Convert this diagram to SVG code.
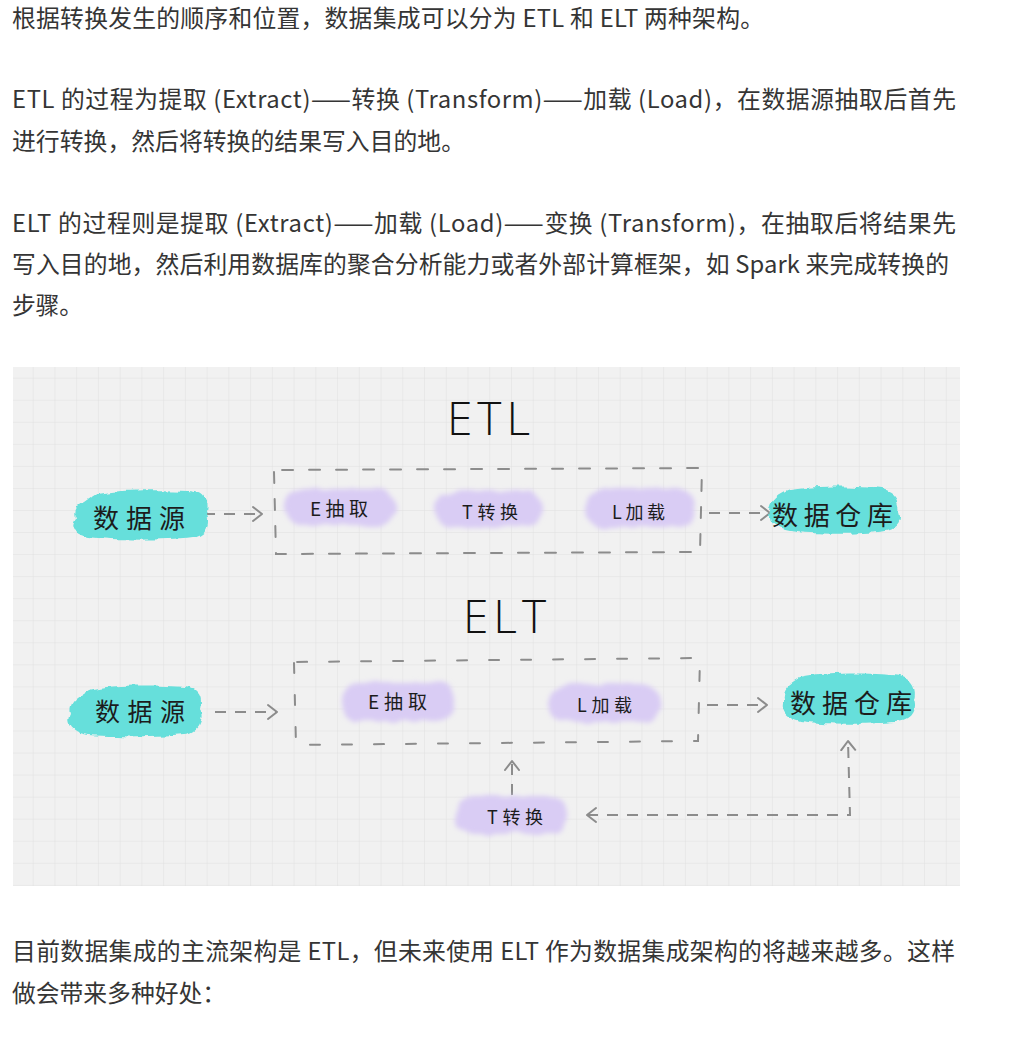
<svg xmlns="http://www.w3.org/2000/svg" width="1014" height="1052" viewBox="0 0 1014 1052">
<style>
.body{font-family:"Noto Sans CJK SC","Noto Sans",sans-serif;font-size:23.8px;fill:#353535;}
.title{font-family:"Open Sans","Lato",sans-serif;font-weight:300;font-size:46px;fill:#111;}
.lbl{font-family:"Noto Sans CJK SC",sans-serif;fill:#1c1c1c;}
.teal{fill:#66dfdb;filter:url(#rough);}
.lav{fill:#d9ccf4;filter:url(#soft);}
.box{fill:none;stroke:#8c8c8c;stroke-width:2;stroke-linecap:round;}
.con{fill:none;stroke:#8c8c8c;stroke-width:2;stroke-dasharray:11 9;}
</style>
<defs>
<pattern id="grid" patternUnits="userSpaceOnUse" x="32.7" y="377.7" width="21.74" height="22.05">
<path d="M0,0 V22.05 M0,0 H21.74" fill="none" stroke="#e0e0e0" stroke-width="1"/>
</pattern>
<filter id="rough" x="-10%" y="-25%" width="120%" height="150%">
<feTurbulence type="fractalNoise" baseFrequency="0.07" numOctaves="3" seed="4" result="n"/>
<feDisplacementMap in="SourceGraphic" in2="n" scale="7" xChannelSelector="R" yChannelSelector="G" result="d"/>
<feGaussianBlur in="d" stdDeviation="0.7"/>
</filter>
<filter id="soft" x="-15%" y="-35%" width="130%" height="170%">
<feTurbulence type="fractalNoise" baseFrequency="0.05" numOctaves="2" seed="9" result="n"/>
<feDisplacementMap in="SourceGraphic" in2="n" scale="8" xChannelSelector="R" yChannelSelector="G" result="d"/>
<feGaussianBlur in="d" stdDeviation="2.4"/>
</filter>
<marker id="arr" markerUnits="userSpaceOnUse" viewBox="-1 -9 12 18" refX="9" refY="0" markerWidth="12" markerHeight="18" orient="auto-start-reverse">
<path d="M0,-7 L9,0 L0,7" fill="none" stroke="#8c8c8c" stroke-width="2" stroke-dasharray="none" stroke-linecap="round" stroke-linejoin="round"/>
</marker>
</defs>

<rect width="1014" height="1052" fill="#ffffff"/>

<g id="text-top">
<text class="body" x="12" y="27" textLength="752" lengthAdjust="spacing">根据转换发生的顺序和位置，数据集成可以分为 ETL 和 ELT 两种架构。</text>
<text class="body" x="12" y="108" textLength="944" lengthAdjust="spacing">ETL 的过程为提取 (Extract)——转换 (Transform)——加载 (Load)，在数据源抽取后首先</text>
<text class="body" x="12" y="149.5" textLength="453" lengthAdjust="spacing">进行转换，然后将转换的结果写入目的地。</text>
<text class="body" x="12" y="231.5" textLength="944" lengthAdjust="spacing">ELT 的过程则是提取 (Extract)——加载 (Load)——变换 (Transform)，在抽取后将结果先</text>
<text class="body" x="12" y="273" textLength="937" lengthAdjust="spacing">写入目的地，然后利用数据库的聚合分析能力或者外部计算框架，如 Spark 来完成转换的</text>
<text class="body" x="12" y="314" textLength="71" lengthAdjust="spacing">步骤。</text>
</g>

<g id="diagram-bg">
<rect x="13" y="367" width="947" height="519" fill="#f1f1f1"/>
<rect x="13" y="367" width="947" height="519" fill="url(#grid)"/>
</g>

<g id="titles">
<text id="title-etl" class="title" x="447" y="435" textLength="83" lengthAdjust="spacing">ETL</text>
<text id="title-elt" class="title" x="463" y="633" textLength="83" lengthAdjust="spacing">ELT</text>
</g>

<g id="boxes">
<path id="etl-box" class="box" stroke-dasharray="11 16" d="M274,472 L276,554 L700,552 L702,468 L274,470 Z"/>
<path id="elt-box" class="box" stroke-dasharray="10 22" d="M294,663 L296,745 L698,741 L700,658 L294,662 Z"/>
</g>

<g id="connectors">
<path class="con" marker-end="url(#arr)" d="M204,514 L262,514"/>
<path class="con" marker-end="url(#arr)" d="M709,513 L770,513"/>
<path class="con" marker-end="url(#arr)" d="M215,712 L277,712"/>
<path class="con" marker-end="url(#arr)" d="M707,705 L767,705"/>
<path class="con" stroke-dasharray="13 40" marker-end="url(#arr)" d="M512,795 L512,761"/>
<path class="con" stroke-dasharray="14 20" marker-start="url(#arr)" marker-end="url(#arr)" d="M587,815 L850,815 L848,741"/>
</g>

<g id="etl-source">
<path class="teal" d="M76,518 C72,506 86,502 92,496 C110,489 160,490 190,491 C204,492 207,500 205,512 C210,524 206,534 192,537 C160,541 110,540 88,537 C74,535 70,526 76,518 Z"/>
<text class="lbl" x="93" y="528" font-size="26" textLength="92" lengthAdjust="spacing">数据源</text>
</g>

<g id="etl-extract">
<rect class="lav" x="285" y="489" width="110" height="37" rx="18"/>
<text class="lbl" x="310" y="516" font-size="19" textLength="58" lengthAdjust="spacing">E抽取</text>
</g>

<g id="etl-transform">
<rect class="lav" x="435" y="491" width="107" height="36" rx="18"/>
<text class="lbl" x="462" y="519" font-size="18" textLength="56" lengthAdjust="spacing">T转换</text>
</g>

<g id="etl-load">
<rect class="lav" x="585" y="489" width="110" height="38" rx="18"/>
<text class="lbl" x="612" y="519" font-size="18" textLength="53" lengthAdjust="spacing">L加载</text>
</g>

<g id="etl-warehouse">
<path class="teal" d="M770,512 C770,500 780,494 790,490 C820,485 860,486 882,489 C895,492 900,502 898,512 C902,524 894,531 878,532 C850,535 810,534 790,531 C774,528 766,522 770,512 Z"/>
<text class="lbl" x="772" y="525" font-size="26" textLength="121" lengthAdjust="spacing">数据仓库</text>
</g>

<g id="elt-source">
<path class="teal" d="M71,714 C68,702 80,697 90,690 C110,684 160,685 185,687 C200,689 203,698 200,708 C205,722 198,733 185,734 C155,737 110,737 90,735 C72,733 66,724 71,714 Z"/>
<text class="lbl" x="95" y="721" font-size="25" textLength="90" lengthAdjust="spacing">数据源</text>
</g>

<g id="elt-extract">
<rect class="lav" x="342" y="682" width="113" height="39" rx="19"/>
<text class="lbl" x="368" y="709" font-size="19" textLength="59" lengthAdjust="spacing">E抽取</text>
</g>

<g id="elt-load">
<rect class="lav" x="549" y="684" width="112" height="38" rx="19"/>
<text class="lbl" x="577" y="712" font-size="18" textLength="55" lengthAdjust="spacing">L加载</text>
</g>

<g id="elt-warehouse">
<path class="teal" d="M784,700 C782,690 790,684 800,678 C830,672 880,673 900,676 C913,680 917,690 914,700 C918,712 910,721 895,722 C865,725 820,724 800,721 C786,719 780,710 784,700 Z"/>
<text class="lbl" x="790" y="713" font-size="26" textLength="122" lengthAdjust="spacing">数据仓库</text>
</g>

<g id="elt-transform">
<rect class="lav" x="455" y="796" width="113" height="38" rx="19"/>
<text class="lbl" x="487" y="824" font-size="18" textLength="56" lengthAdjust="spacing">T转换</text>
</g>

<g id="text-bottom">
<text class="body" x="12" y="960" textLength="943" lengthAdjust="spacing">目前数据集成的主流架构是 ETL，但未来使用 ELT 作为数据集成架构的将越来越多。这样</text>
<text class="body" x="12" y="1001.5" textLength="214" lengthAdjust="spacing">做会带来多种好处：</text>
</g>
</svg>
